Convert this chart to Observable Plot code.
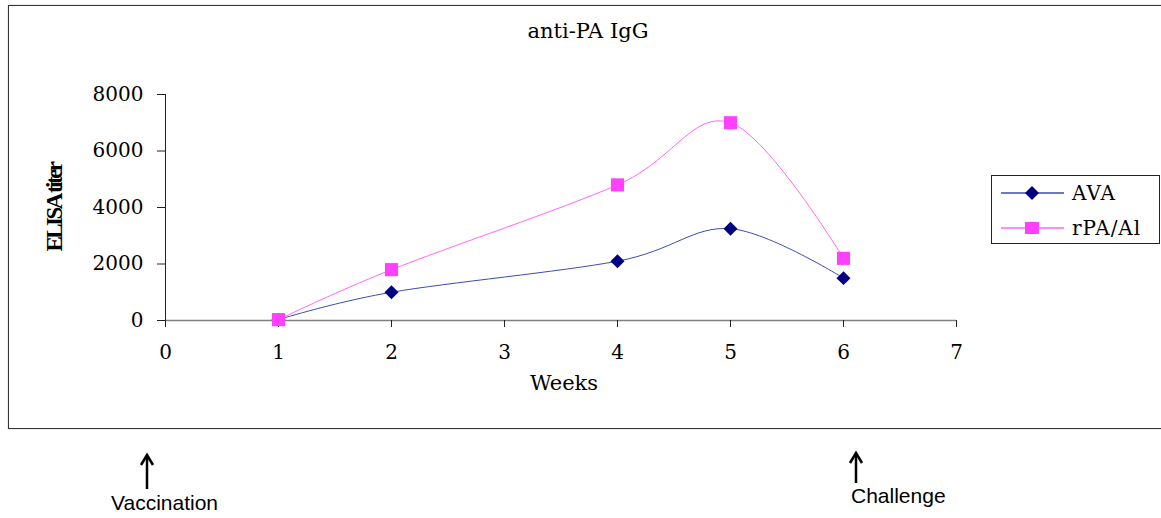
<!DOCTYPE html>
<html>
<head>
<meta charset="utf-8">
<script src="https://cdn.jsdelivr.net/npm/d3@7"></script>
<script src="https://cdn.jsdelivr.net/npm/@observablehq/plot@0.6"></script>
<style>
  html, body { margin: 0; padding: 0; background: #fff; }
  #wrap { position: relative; width: 1161px; height: 518px; overflow: hidden; font-family: "DejaVu Serif", "Liberation Serif", serif; }
  #frame { position: absolute; left: 8px; top: 5px; width: 1170px; height: 422px; border: 1px solid #333; border-right: none; box-shadow: 0 0 1px #999; }
  #chart { position: absolute; left: 0; top: 0; }
  .title { position: absolute; left: 488px; width: 200px; top: 19px; text-align: center; font-size: 21px; color: #000; line-height: normal; }
  .ann { position: absolute; font-family: "Liberation Sans", Arial, sans-serif; font-size: 21px; color: #000; }
  #legend { position: absolute; left: 991px; top: 175px; }
</style>
</head>
<body>
<div id="wrap">
  <div id="frame"></div>
  <div id="chart"></div>
  <div class="title">anti-PA IgG</div>
  <svg id="legend" width="170" height="70"></svg>
  <svg style="position:absolute;left:0;top:0" width="1161" height="518">
    <g stroke="#000" stroke-width="2.5" fill="none">
      <line x1="147" y1="489" x2="147" y2="457"/>
      <polyline points="141,465 147,455 153,465" stroke-linejoin="miter"/>
      <line x1="856" y1="483" x2="856" y2="455"/>
      <polyline points="850,463 856,453 862,463" stroke-linejoin="miter"/>
    </g>
  </svg>
  <div class="ann" style="left:111px; top:491px;">Vaccination</div>
  <div class="ann" style="left:851px; top:484px;">Challenge</div>
</div>
<script>
const weeks = [1, 2, 4, 5, 6];
const avaTiter = [30, 1000, 2100, 3250, 1500];
const rpaTiter = [30, 1800, 4800, 7000, 2200];
const seriesNames = ["AVA", "rPA/Al"];
const xTicks = [0, 1, 2, 3, 4, 5, 6, 7];
const yTicks = [0, 2000, 4000, 6000, 8000];

const colors = { "AVA": { line: "#3a4db0", mark: "#000080", symbol: "diamond2" },
                 "rPA/Al": { line: "#ff66ff", mark: "#ff40ff", symbol: "square" } };

const ava = weeks.map((w, i) => ({ week: w, titer: avaTiter[i], series: seriesNames[0] }));
const rpa = weeks.map((w, i) => ({ week: w, titer: rpaTiter[i], series: seriesNames[1] }));

const serif = "DejaVu Serif, Liberation Serif, serif";

const plot = Plot.plot({
  width: 1161,
  height: 518,
  marginLeft: 165,
  marginRight: 205,
  marginTop: 94,
  marginBottom: 198,
  style: { fontFamily: serif, background: "transparent", overflow: "visible" },
  x: { domain: [0, 7] },
  y: { domain: [0, 8000] },
  marks: [
    Plot.ruleY([0], { stroke: "#808080", strokeWidth: 1.5 }),
    Plot.ruleX([0], { stroke: "#222", strokeWidth: 1 }),
    Plot.axisY({ ticks: yTicks, tickSize: 8, tickPadding: 14, fontSize: 20, label: null, tickFormat: d => String(d), stroke: "#222", color: "#000" }),
    Plot.axisX({ ticks: xTicks, tickSize: 7, tickPadding: 17, fontSize: 20, label: null, tickFormat: d => String(d), stroke: "#222", color: "#000" }),
    Plot.text(["Weeks"], { frameAnchor: "bottom", dy: 69, fontSize: 21, fill: "#000", dx: 3 }),
    Plot.text(["ELISA titer"], { frameAnchor: "left", dx: -111, rotate: -90, fontSize: 23, fontWeight: "bold", fontFamily: "Liberation Serif, serif", fill: "#000", textAnchor: "middle" }),
    Plot.line(ava, { x: "week", y: "titer", stroke: colors["AVA"].line, strokeWidth: 1, curve: "cardinal" }),
    Plot.line(rpa, { x: "week", y: "titer", stroke: colors["rPA/Al"].line, strokeWidth: 1, curve: "cardinal" }),
    Plot.dot(ava, { x: "week", y: "titer", symbol: "diamond2", r: 6.3, fill: colors["AVA"].mark, stroke: "none" }),
    Plot.dot(rpa, { x: "week", y: "titer", symbol: "square", r: 7.4, fill: colors["rPA/Al"].mark, stroke: "none" })
  ]
});
// condense the rotated axis title like the original
d3.select(plot).selectAll("text").filter(function () { return this.textContent === "ELISA titer"; })
  .attr("letter-spacing", "-2.5px");
document.getElementById("chart").appendChild(plot);

// legend
const lg = d3.select("#legend");
lg.append("rect").attr("x", 0.5).attr("y", 0.5).attr("width", 168).attr("height", 68).attr("fill", "#fff").attr("stroke", "#222");
seriesNames.forEach((name, i) => {
  const cy = 18 + i * 35;
  const c = colors[name];
  lg.append("line").attr("x1", 10).attr("x2", 73).attr("y1", cy).attr("y2", cy).attr("stroke", c.line).attr("stroke-width", 1.5);
  if (c.symbol === "diamond2") {
    lg.append("path").attr("d", "M41,11 L48,18 L41,25 L34,18 Z").attr("fill", c.mark);
  } else {
    lg.append("rect").attr("x", 34).attr("y", cy - 6).attr("width", 14).attr("height", 12).attr("fill", c.mark);
  }
  lg.append("text").attr("x", 81).attr("y", cy + 7).attr("font-size", 20).attr("letter-spacing", "1px").attr("font-family", serif).text(name);
});
</script>
</body>
</html>
